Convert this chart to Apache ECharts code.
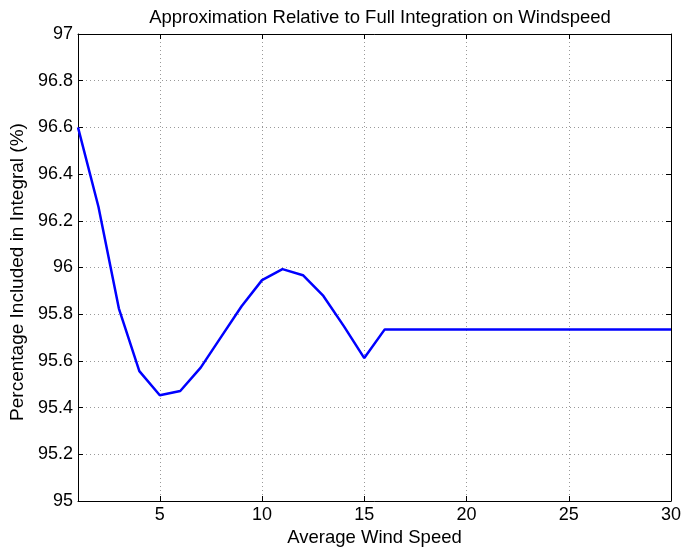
<!DOCTYPE html>
<html>
<head>
<meta charset="utf-8">
<script src="https://cdn.jsdelivr.net/npm/echarts@6/dist/echarts.min.js"></script>
<style>html,body{margin:0;padding:0;background:#fff;}#c{width:683px;height:550px;}</style>
</head>
<body>
<div id="c"></div>
<script>
var windSpeed = [1,2,3,4,5,6,7,8,9,10,11,12,13,14,15,16,17,18,19,20,21,22,23,24,25,26,27,28,29,30];
var percentIncluded = [96.60,96.26,95.824,95.556,95.453,95.471,95.571,95.703,95.834,95.946,95.993,95.967,95.878,95.749,95.612,95.735,95.735,95.735,95.735,95.735,95.735,95.735,95.735,95.735,95.735,95.735,95.735,95.735,95.735,95.735];
var xTicks = [5,10,15,20,25,30];
var titleText = 'Approximation Relative to Full Integration on Windspeed';
var xName = 'Average Wind Speed';
var yName = 'Percentage Included in Integral (%)';

var data = windSpeed.map(function(x,i){return [x, percentIncluded[i]];});
var font = 'Liberation Sans, Arial, sans-serif';
var chart = echarts.init(document.getElementById('c'), null, {renderer:'canvas'});
var splitStyle = {show:true, lineStyle:{color:'#999', type:[1,3], width:1}};
chart.setOption({
  animation:false,
  title:{text:titleText, left:375, top:3, textAlign:'center', textStyle:{fontFamily:font, fontSize:18.5, fontWeight:'normal', color:'#000'}},
  grid:{left:78, right:12, top:34, bottom:49, containLabel:false, outerBoundsMode:'none', show:false},
  xAxis:[{
    type:'value', min:1, max:30, position:'bottom',
    name:xName, nameLocation:'middle', nameGap:17,
    nameTextStyle:{fontFamily:font, fontSize:18.5, color:'#000'},
    axisLine:{show:true, onZero:false, lineStyle:{color:'#000', width:1}},
    axisTick:{show:true, inside:true, length:5, customValues:xTicks, lineStyle:{color:'#000'}},
    axisLabel:{show:true, customValues:xTicks, fontFamily:font, fontSize:18, color:'#000', margin:5},
    splitLine:splitStyle
  },{
    type:'value', min:1, max:30, position:'top',
    axisLine:{show:true, onZero:false, lineStyle:{color:'#000', width:1}},
    axisTick:{show:true, inside:true, length:5, customValues:xTicks, lineStyle:{color:'#000'}},
    axisLabel:{show:false},
    splitLine:{show:false}
  }],
  yAxis:[{
    type:'value', min:95, max:97, interval:0.2, position:'left',
    name:yName, nameLocation:'middle', nameGap:41, nameRotate:90,
    nameTextStyle:{fontFamily:font, fontSize:19, color:'#000', padding:[0,9,0,0]},
    axisLine:{show:true, onZero:false, lineStyle:{color:'#000', width:1}},
    axisTick:{show:true, inside:true, length:5, lineStyle:{color:'#000'}},
    axisLabel:{fontFamily:font, fontSize:18, color:'#000', margin:5, formatter:function(v){return String(Math.round(v*10)/10);}},
    splitLine:splitStyle
  },{
    type:'value', min:95, max:97, interval:0.2, position:'right',
    axisLine:{show:true, onZero:false, lineStyle:{color:'#000', width:1}},
    axisTick:{show:true, inside:true, length:5, lineStyle:{color:'#000'}},
    axisLabel:{show:false},
    splitLine:{show:false}
  }],
  series:[{
    type:'line', data:data, xAxisIndex:0, yAxisIndex:0,
    showSymbol:false, symbol:'none',
    lineStyle:{color:'#0000ff', width:2.5},
    itemStyle:{color:'#0000ff'}
  }]
});
</script>
</body>
</html>
